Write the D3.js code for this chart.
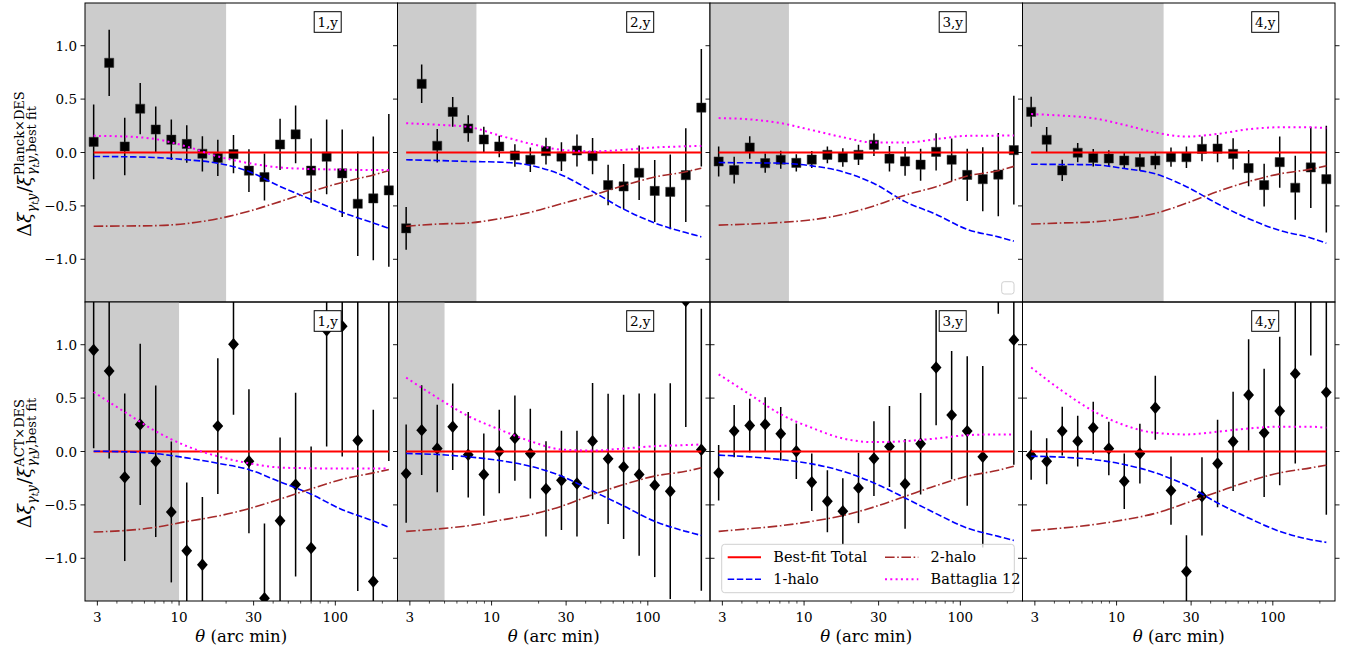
<!DOCTYPE html>
<html><head><meta charset="utf-8">
<script src="https://cdn.jsdelivr.net/npm/d3@7"></script>
<style>
body{margin:0;background:#fff}
svg{display:block}
</style>
</head><body>
<svg id="c" width="1347" height="656"></svg>
<script>
// ---------- data ----------
const theta = [2.84, 3.57, 4.49, 5.64, 7.09, 8.92, 11.2, 14.1, 17.7, 22.3, 28.0, 35.2, 44.3, 55.7, 70.0, 88.0, 110.7, 139.2, 175.0, 220.0];
const modelTheta = [2.84, 4.49, 7.09, 11.2, 17.7, 28.0, 44.3, 70.0, 110.7, 175.0, 220.0];
const panelLabels = ["1,y", "2,y", "3,y", "4,y"];

// Planck x DES (top row)
const planckVal = [
  [0.10, 0.84, 0.056, 0.41, 0.215, 0.12, 0.08, -0.012, -0.05, -0.015, -0.17, -0.23, 0.075, 0.17, -0.17, -0.04, -0.195, -0.48, -0.43, -0.355],
  [-0.71, 0.643, 0.063, 0.38, 0.225, 0.122, 0.056, -0.028, -0.068, 0.013, -0.038, 0.019, -0.034, -0.305, -0.318, -0.19, -0.36, -0.368, -0.212, 0.42],
  [-0.084, -0.165, 0.047, -0.1, -0.068, -0.097, -0.066, -0.022, -0.047, -0.022, 0.072, -0.058, -0.083, -0.114, 0.006, -0.068, -0.21, -0.25, -0.207, 0.022],
  [0.381, 0.119, -0.168, -0.002, -0.05, -0.056, -0.075, -0.09, -0.075, -0.044, -0.044, 0.034, 0.037, -0.013, -0.146, -0.305, -0.09, -0.33, -0.14, -0.25]
];
const planckErr = [
  [0.35, 0.31, 0.27, 0.24, 0.215, 0.19, 0.175, 0.165, 0.17, 0.18, 0.2, 0.22, 0.24, 0.27, 0.30, 0.35, 0.41, 0.49, 0.58, 0.715],
  [0.2, 0.18, 0.157, 0.14, 0.125, 0.12, 0.1, 0.105, 0.115, 0.125, 0.135, 0.15, 0.17, 0.19, 0.21, 0.255, 0.29, 0.35, 0.44, 0.55],
  [0.14, 0.125, 0.105, 0.09, 0.085, 0.08, 0.08, 0.078, 0.086, 0.095, 0.105, 0.12, 0.135, 0.15, 0.175, 0.2, 0.245, 0.3, 0.39, 0.51],
  [0.14, 0.12, 0.1, 0.09, 0.082, 0.078, 0.08, 0.08, 0.083, 0.09, 0.1, 0.115, 0.128, 0.147, 0.17, 0.2, 0.24, 0.3, 0.38, 0.5]
];
// ACT x DES (bottom row)
const actVal = [
  [0.951, 0.754, -0.241, 0.254, -0.091, -0.566, -0.93, -1.061, 0.238, 1.005, -0.091, -1.374, -0.648, -0.31, -0.904, 1.136, 1.174, 0.103, -1.218, 1.8],
  [-0.207, 0.2, 0.028, 0.232, -0.031, -0.216, 0.0, 0.125, -0.019, -0.35, -0.27, -0.3, 0.097, -0.069, -0.144, -0.216, -0.316, -0.372, 1.41, 0.016],
  [-0.2, 0.191, 0.244, 0.254, 0.166, 0.003, -0.288, -0.466, -0.56, -0.341, -0.066, 0.047, -0.304, 0.072, 0.786, 0.341, 0.191, -0.05, 2.3, 1.045],
  [-0.034, -0.091, 0.191, 0.097, 0.222, 0.028, -0.279, -0.019, 0.41, -0.366, -1.124, -0.42, -0.113, 0.094, 0.529, 0.175, 0.379, 0.729, 1.95, 0.554]
];
const actErr = [
  [0.92, 0.82, 0.785, 0.756, 0.71, 0.66, 0.64, 0.635, 0.635, 0.66, 0.675, 0.70, 0.78, 0.86, 0.95, 1.09, 1.22, 1.41, 1.61, 1.89],
  [0.46, 0.42, 0.41, 0.405, 0.4, 0.385, 0.39, 0.4, 0.42, 0.445, 0.465, 0.495, 0.545, 0.61, 0.675, 0.76, 0.86, 1.01, 1.18, 1.32],
  [0.26, 0.245, 0.25, 0.255, 0.25, 0.26, 0.27, 0.29, 0.31, 0.33, 0.35, 0.38, 0.42, 0.475, 0.54, 0.6, 0.7, 0.85, 1.01, 1.17],
  [0.23, 0.215, 0.228, 0.238, 0.243, 0.25, 0.26, 0.28, 0.3, 0.32, 0.34, 0.367, 0.41, 0.465, 0.523, 0.6, 0.695, 0.842, 1.05, 1.146]
];

// model curves, sampled at modelTheta
const bestFit = [0, 0, 0, 0, 0, 0, 0, 0, 0, 0, 0];
const planckOneHalo = [
  [-0.037, -0.04, -0.047, -0.068, -0.1, -0.178, -0.318, -0.44, -0.56, -0.66, -0.71],
  [-0.068, -0.075, -0.084, -0.09, -0.12, -0.21, -0.365, -0.53, -0.66, -0.75, -0.79],
  [-0.094, -0.097, -0.1, -0.125, -0.18, -0.29, -0.46, -0.58, -0.72, -0.79, -0.83],
  [-0.11, -0.112, -0.115, -0.15, -0.2, -0.32, -0.48, -0.62, -0.73, -0.8, -0.85]
];
const planckTwoHalo = [
  [-0.69, -0.688, -0.685, -0.665, -0.62, -0.55, -0.46, -0.365, -0.28, -0.21, -0.17],
  [-0.69, -0.67, -0.66, -0.62, -0.56, -0.48, -0.40, -0.31, -0.23, -0.18, -0.147],
  [-0.68, -0.67, -0.655, -0.63, -0.58, -0.5, -0.4, -0.32, -0.22, -0.17, -0.13],
  [-0.67, -0.66, -0.65, -0.62, -0.57, -0.475, -0.366, -0.272, -0.2, -0.156, -0.125]
];
const planckBattaglia = [
  [0.156, 0.15, 0.125, 0.056, -0.037, -0.1, -0.14, -0.155, -0.16, -0.165, -0.165],
  [0.275, 0.26, 0.24, 0.16, 0.082, 0.025, 0.01, 0.025, 0.047, 0.058, 0.062],
  [0.322, 0.31, 0.275, 0.21, 0.143, 0.093, 0.093, 0.125, 0.156, 0.158, 0.159],
  [0.36, 0.345, 0.321, 0.259, 0.187, 0.149, 0.174, 0.218, 0.236, 0.236, 0.227]
];
const actOneHalo = [
  [0.003, -0.003, -0.02, -0.06, -0.11, -0.17, -0.285, -0.40, -0.545, -0.65, -0.71],
  [-0.019, -0.028, -0.05, -0.084, -0.138, -0.23, -0.37, -0.51, -0.654, -0.748, -0.786],
  [-0.034, -0.05, -0.075, -0.116, -0.185, -0.294, -0.435, -0.582, -0.717, -0.795, -0.833],
  [-0.044, -0.053, -0.075, -0.122, -0.2, -0.316, -0.482, -0.623, -0.748, -0.826, -0.851]
];
const actTwoHalo = [
  [-0.754, -0.74, -0.71, -0.655, -0.605, -0.535, -0.445, -0.35, -0.26, -0.2, -0.169],
  [-0.748, -0.726, -0.695, -0.645, -0.592, -0.513, -0.404, -0.31, -0.23, -0.185, -0.153],
  [-0.748, -0.723, -0.695, -0.654, -0.6, -0.52, -0.42, -0.32, -0.232, -0.175, -0.138],
  [-0.741, -0.717, -0.685, -0.639, -0.579, -0.482, -0.379, -0.279, -0.2, -0.153, -0.128]
];
const actBattaglia = [
  [0.557, 0.37, 0.19, 0.05, -0.045, -0.11, -0.15, -0.157, -0.16, -0.16, -0.16],
  [0.692, 0.504, 0.332, 0.207, 0.097, 0.019, 0.009, 0.028, 0.05, 0.06, 0.066],
  [0.723, 0.535, 0.348, 0.222, 0.122, 0.088, 0.097, 0.122, 0.153, 0.16, 0.16],
  [0.786, 0.567, 0.379, 0.247, 0.175, 0.16, 0.185, 0.216, 0.232, 0.232, 0.222]
];

// excluded-scale shading (upper theta limit, arcmin)
const planckShade = [20, 8, 8, 20];
const actShade = [10, 5, null, null];

const xTicks = [3, 10, 30, 100];
const xTickLabels = ["3", "10", "30", "100"];
const xMinorTicks = [4, 5, 6, 7, 8, 9, 20, 40, 50, 60, 70, 80, 90, 200];
const yTicks = [-1, -0.5, 0, 0.5, 1];
const yTickLabels = ["\u22121.0", "\u22120.5", "0.0", "0.5", "1.0"];
const legendLabels = ["Best-fit Total", "2-halo", "1-halo", "Battaglia 12"];
const rowSurvey = ["Planck\u00d7DES", "ACT\u00d7DES"];

// ---------- layout ----------
const FONT = "DejaVu Serif";
const svg = d3.select("#c");
const left = 85, panelW = 312.5, rowTop = [3, 302], panelH = 299;
const x = d3.scaleLog().domain([2.5, 250]).range([0, panelW]);
const y = d3.scaleLinear().domain([-1.4, 1.4]).range([panelH, 0]);

const styles = {
  best: {stroke: "#ff0000", width: 2, dash: null},
  one: {stroke: "#0000ff", width: 1.6, dash: "6.5,2.6"},
  two: {stroke: "#a52a2a", width: 1.6, dash: "9.6,2.6,1.6,2.6"},
  batt: {stroke: "#ff00ff", width: 2, dash: "2,3.3"}
};

const rows = [
  {val: planckVal, err: planckErr, shade: planckShade, one: planckOneHalo, two: planckTwoHalo, batt: planckBattaglia, marker: "square"},
  {val: actVal, err: actErr, shade: actShade, one: actOneHalo, two: actTwoHalo, batt: actBattaglia, marker: "diamond"}
];

function txt(sel) {
  return sel.append("text").attr("font-family", FONT).attr("fill", "#000");
}

const line = d3.line().x(d => x(d[0])).y(d => y(d[1])).curve(d3.curveMonotoneX);
const defs = svg.append("defs");
defs.append("clipPath").attr("id", "pclip").append("rect")
  .attr("x", 0).attr("y", 0).attr("width", panelW).attr("height", panelH);

rows.forEach((row, r) => {
  for (let p = 0; p < 4; p++) {
    const g = svg.append("g").attr("transform", `translate(${left + p * panelW},${rowTop[r]})`);
    const inner = g.append("g").attr("clip-path", "url(#pclip)");
    if (row.shade[p] != null) {
      inner.append("rect").attr("x", 0).attr("y", 0)
        .attr("width", x(row.shade[p])).attr("height", panelH).attr("fill", "#cccccc");
    }
    // data
    const pts = theta.map((t, i) => ({t, v: row.val[p][i], e: row.err[p][i]}));
    inner.selectAll("line.eb").data(pts).enter().append("line")
      .attr("x1", d => x(d.t)).attr("x2", d => x(d.t))
      .attr("y1", d => y(d.v - d.e)).attr("y2", d => y(d.v + d.e))
      .attr("stroke", "#000").attr("stroke-width", 1.5);
    if (row.marker === "square") {
      inner.selectAll("path.mk").data(pts).enter().append("path")
        .attr("transform", d => `translate(${x(d.t)},${y(d.v)})`)
        .attr("d", d3.symbol().type(d3.symbolSquare).size(84))
        .attr("fill", "#000").attr("stroke", "#333").attr("stroke-width", 0.5);
    } else {
      inner.selectAll("path.mk").data(pts).enter().append("path")
        .attr("transform", d => `translate(${x(d.t)},${y(d.v)})`)
        .attr("d", "M0,-6.2L5.4,0L0,6.2L-5.4,0Z").attr("fill", "#000");
    }
    // curves
    const curves = [
      [bestFit, styles.best], [row.one[p], styles.one], [row.two[p], styles.two], [row.batt[p], styles.batt]
    ];
    curves.forEach(([vals, st]) => {
      inner.append("path").datum(modelTheta.map((t, i) => [t, vals[i]]))
        .attr("d", line).attr("fill", "none")
        .attr("stroke", st.stroke).attr("stroke-width", st.width)
        .attr("stroke-dasharray", st.dash);
    });
    // y ticks (both sides, outward)
    yTicks.forEach((v, i) => {
      g.append("line").attr("x1", 0).attr("x2", -4.5).attr("y1", y(v)).attr("y2", y(v)).attr("stroke", "#000").attr("stroke-width", 0.9);
      g.append("line").attr("x1", panelW).attr("x2", panelW + 4.5).attr("y1", y(v)).attr("y2", y(v)).attr("stroke", "#000").attr("stroke-width", 0.9);
      if (p === 0) {
        txt(g).attr("x", -8).attr("y", y(v) + 5).attr("text-anchor", "end")
          .attr("font-size", 13.5).text(yTickLabels[i]);
      }
    });
    // x ticks on bottom row
    if (r === 1) {
      xTicks.forEach((t, i) => {
        g.append("line").attr("x1", x(t)).attr("x2", x(t)).attr("y1", panelH).attr("y2", panelH + 4.5).attr("stroke", "#000").attr("stroke-width", 0.9);
        txt(g).attr("x", x(t)).attr("y", panelH + 20.5).attr("text-anchor", "middle")
          .attr("font-size", 13.5).text(xTickLabels[i]);
      });
      xMinorTicks.forEach(t => {
        g.append("line").attr("x1", x(t)).attr("x2", x(t)).attr("y1", panelH).attr("y2", panelH + 2.6).attr("stroke", "#000").attr("stroke-width", 0.7);
      });
      const xl = txt(g).attr("x", panelW / 2).attr("y", panelH + 41).attr("text-anchor", "middle").attr("font-size", 16.5);
      xl.append("tspan").attr("font-style", "italic").text("\u03b8");
      xl.append("tspan").text(" (arc min)");
    }
    // panel label box
    const lb = g.append("g").attr("transform", `translate(${panelW - 69.8},${19})`);
    lb.append("rect").attr("x", -13.5).attr("y", -10.3).attr("width", 27).attr("height", 20.6)
      .attr("fill", "#fff").attr("stroke", "#000").attr("stroke-width", 1);
    txt(lb).attr("x", 0).attr("y", 4.8).attr("text-anchor", "middle").attr("font-size", 13.5).text(panelLabels[p]);

    // legends
    if (p === 2 && r === 0) {
      g.append("rect").attr("x", 291.7).attr("y", 278.7).attr("width", 12.3).attr("height", 12.3).attr("rx", 2.5)
        .attr("fill", "#fff").attr("fill-opacity", 0.8).attr("stroke", "#d0d0d0").attr("stroke-width", 1);
    }
    if (p === 2 && r === 1) {
      const lg = g.append("g").attr("transform", "translate(11.7,242.3)");
      lg.append("rect").attr("width", 292.6).attr("height", 48.4).attr("rx", 3)
        .attr("fill", "#fff").attr("fill-opacity", 0.8).attr("stroke", "#d0d0d0").attr("stroke-width", 1);
      const items = [
        [legendLabels[0], styles.best, 6, 13], [legendLabels[1], styles.two, 163.3, 13],
        [legendLabels[2], styles.one, 6, 35], [legendLabels[3], styles.batt, 163.3, 35]
      ];
      items.forEach(([lab, st, lx, ly]) => {
        lg.append("line").attr("x1", lx).attr("x2", lx + 33.3).attr("y1", ly).attr("y2", ly)
          .attr("stroke", st.stroke).attr("stroke-width", st.width).attr("stroke-dasharray", st.dash);
        txt(lg).attr("x", lx + 45.6).attr("y", ly + 5).attr("font-size", 14.5).text(lab);
      });
    }
    // frame
    g.append("rect").attr("x", 0).attr("y", 0).attr("width", panelW).attr("height", panelH)
      .attr("fill", "none").attr("stroke", "#000").attr("stroke-width", 1);
  }

  // y-axis label
  const cy = rowTop[r] + panelH / 2 + 11.5;
  const lab = svg.append("g");
  let cur = 0;
  function piece(str, size, italic, dy, atX) {
    const t = txt(lab).attr("x", atX != null ? atX : cur).attr("y", dy)
      .attr("font-size", size).attr("font-style", italic ? "italic" : "normal").text(str);
    return t.node().getComputedTextLength();
  }
  cur += piece("\u0394", 19, false, 0);
  cur += piece("\u03be", 19, true, 0);
  cur += piece("\u03b3", 13, true, 4.5);
  cur += piece("t", 9.5, true, 7);
  cur += piece("y", 13, true, 4.5) + 1;
  cur += piece("/", 19, false, 0);
  cur += piece("\u03be", 19, true, 0) + 0.5;
  const startScript = cur;
  const wSup = piece(rowSurvey[r], 13, false, -7.5, startScript);
  let sc = startScript;
  sc += piece("\u03b3", 13, true, 5, sc);
  sc += piece("t", 9.5, true, 7.5, sc);
  sc += piece("y", 13, true, 5, sc);
  sc += piece(",best fit", 13, false, 5, sc);
  const W = Math.max(startScript + wSup, sc);
  lab.attr("transform", `translate(31,${cy + W / 2}) rotate(-90)`);
});
</script>
</body></html>
